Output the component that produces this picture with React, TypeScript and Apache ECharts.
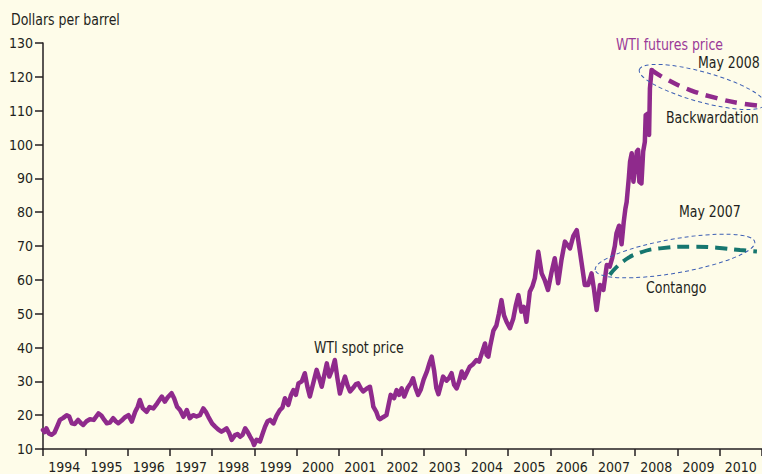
import { useEffect, useRef } from "react";
import * as echarts from "echarts";

const FONT = '"Liberation Sans Narrow", "Arial Narrow", "DejaVu Sans Condensed", sans-serif';

const yearLabels = ["1994", "1995", "1996", "1997", "1998", "1999", "2000", "2001", "2002", "2003", "2004", "2005", "2006", "2007", "2008", "2009", "2010"];

// WTI spot price, dollars per barrel (decimal year, price)
const spotDates = [
  1994.00, 1994.04, 1994.08, 1994.14, 1994.20, 1994.27, 1994.34, 1994.40, 1994.48, 1994.56, 1994.62, 1994.68, 1994.75, 1994.83, 1994.90, 1994.95,
  1995.03, 1995.11, 1995.20, 1995.31, 1995.38, 1995.45, 1995.51, 1995.58, 1995.66, 1995.72, 1995.78, 1995.86, 1995.94,
  1996.02, 1996.10, 1996.18, 1996.24, 1996.29, 1996.36, 1996.45, 1996.52, 1996.61, 1996.70, 1996.76, 1996.81, 1996.88, 1996.95,
  1997.04, 1997.10, 1997.17, 1997.24, 1997.32, 1997.40, 1997.47, 1997.55, 1997.63, 1997.71, 1997.79, 1997.85, 1997.91,
  1998.00, 1998.07, 1998.14, 1998.22, 1998.28, 1998.34, 1998.40, 1998.46, 1998.54, 1998.60, 1998.66, 1998.72, 1998.78, 1998.84, 1998.90, 1998.95, 1998.99,
  1999.05, 1999.13, 1999.20, 1999.25, 1999.31, 1999.37, 1999.45, 1999.52, 1999.60, 1999.66, 1999.72, 1999.80, 1999.86, 1999.92, 1999.98,
  2000.04, 2000.12, 2000.19, 2000.25, 2000.31, 2000.38, 2000.47, 2000.53, 2000.59, 2000.65, 2000.71, 2000.77, 2000.84, 2000.90, 2000.96,
  2001.02, 2001.08, 2001.14, 2001.20, 2001.26, 2001.33, 2001.40, 2001.45, 2001.51, 2001.57, 2001.65, 2001.73, 2001.78, 2001.81, 2001.88, 2001.93, 2001.97,
  2002.04, 2002.12, 2002.17, 2002.22, 2002.30, 2002.36, 2002.42, 2002.48, 2002.54, 2002.62, 2002.70, 2002.75, 2002.81, 2002.87, 2002.93,
  2003.00, 2003.08, 2003.14, 2003.19, 2003.25, 2003.30, 2003.35, 2003.41, 2003.46, 2003.54, 2003.60, 2003.66, 2003.72, 2003.78, 2003.84, 2003.90, 2003.96,
  2004.02, 2004.09, 2004.16, 2004.25, 2004.31, 2004.38, 2004.45, 2004.49, 2004.53, 2004.57, 2004.65, 2004.72, 2004.78, 2004.84, 2004.90, 2004.96,
  2005.04, 2005.12, 2005.18, 2005.24, 2005.31, 2005.37, 2005.43, 2005.51, 2005.57, 2005.63, 2005.71, 2005.79, 2005.86, 2005.94,
  2006.02, 2006.10, 2006.18, 2006.26, 2006.34, 2006.46, 2006.54, 2006.62, 2006.73, 2006.81, 2006.89, 2006.97,
  2007.03, 2007.09, 2007.17, 2007.25, 2007.33, 2007.40, 2007.46, 2007.52, 2007.56, 2007.62, 2007.68, 2007.73, 2007.77, 2007.80, 2007.85, 2007.88, 2007.92, 2007.96,
  2008.00, 2008.04, 2008.07, 2008.10, 2008.15, 2008.19, 2008.23, 2008.25, 2008.31, 2008.33, 2008.35, 2008.39,
];
const spotPrices = [
  15.6, 15.0, 16.1, 14.6, 14.2, 14.8, 16.8, 18.6, 19.2, 20.0, 19.6, 17.6, 17.4, 18.6, 17.6, 17.1,
  18.2, 18.8, 18.6, 20.5, 19.9, 18.6, 17.6, 17.8, 19.1, 18.2, 17.6, 18.4, 19.4,
  20.0, 18.1, 21.0, 22.5, 24.5, 22.0, 21.0, 22.4, 22.0, 23.5, 24.6, 25.5, 24.0, 25.3,
  26.5, 25.0, 22.5, 21.5, 19.5, 21.5, 19.1, 20.0, 19.6, 20.0, 22.0, 21.0, 19.5,
  17.5, 16.6, 15.8, 15.1, 15.6, 16.1, 14.8, 12.7, 14.1, 14.4, 13.6, 14.2, 16.1, 15.0, 13.6, 12.5, 11.2,
  12.7, 12.2, 14.8, 16.6, 18.2, 18.6, 17.6, 19.8, 21.5, 22.2, 25.0, 23.0, 25.8, 27.4, 26.0,
  29.4, 30.0, 32.4, 28.5, 25.5, 29.0, 33.4, 31.0, 28.4, 31.8, 35.3, 31.4, 33.5, 36.3, 31.0,
  26.4, 29.0, 31.4, 28.8, 27.0, 28.0, 29.2, 29.4, 28.0, 27.0, 27.8, 28.4, 25.0, 22.5, 21.0, 19.2, 18.8,
  19.4, 20.0, 23.0, 26.0, 25.0, 27.4, 26.0, 27.9, 25.5, 28.0, 29.5, 30.9, 28.0, 26.0, 27.5,
  30.5, 33.0, 35.5, 37.3, 33.0, 28.0, 26.2, 29.0, 31.4, 30.2, 31.0, 32.4, 29.0, 27.9, 30.0, 32.9, 31.0,
  32.5, 34.3, 35.0, 36.3, 35.8, 38.5, 41.2, 37.8, 37.3, 40.2, 45.0, 46.5, 50.0, 54.0, 49.5, 47.6,
  45.7, 48.6, 52.5, 55.5, 50.6, 52.0, 47.6, 56.5, 58.0, 60.5, 68.3, 61.9, 60.0, 57.0,
  62.0, 66.4, 59.0, 66.0, 71.3, 69.3, 73.0, 74.7, 65.4, 58.5, 58.5, 61.9,
  57.0, 51.1, 58.5, 57.0, 64.4, 63.9, 66.5, 70.0, 73.8, 76.0, 70.5, 77.0, 81.0, 83.0, 90.0, 94.9, 97.4, 89.0,
  93.0, 97.9, 98.4, 89.0, 88.5, 97.9, 100.8, 108.7, 109.2, 102.8, 116.6, 122.0,
];

// WTI futures curve, May 2007 (contango)
const contangoDates = [2007.40, 2007.71, 2008.11, 2008.59, 2009.37, 2009.93, 2010.48, 2010.88];
const contangoPrices = [61.5, 65.4, 68.0, 69.3, 69.8, 69.5, 68.8, 68.4];

// WTI futures curve, May 2008 (backwardation)
const backwardDates = [2008.39, 2008.74, 2009.30, 2009.93, 2010.48, 2011.0];
const backwardPrices = [122.0, 119.3, 116.1, 113.7, 112.2, 111.4];

const pair = (xs: number[], ys: number[]) => xs.map((x, i) => [x, ys[i]]);

const PURPLE = "#8f2a8c";
const TEAL = "#16766f";
const INK = "#231f20";
const BLUE = "#3d5fb4";

export default function App() {
  const ref = useRef<HTMLDivElement>(null);
  useEffect(() => {
    if (!ref.current) return;
    const chart = echarts.init(ref.current, undefined, { renderer: "svg" });
    const label = (x: number, y: number, text: string, fill = INK) => ({
      type: "text",
      x,
      y,
      z: 20,
      scaleX: 0.87,
      style: { text, fill, font: `16px ${FONT}`, verticalAlign: "middle" },
    });
    chart.setOption({
      animation: false,
      backgroundColor: "#fefce9",
      grid: { left: 43, right: 0, top: 43, bottom: 25, containLabel: false },
      xAxis: [
        {
          type: "value",
          min: 1994,
          max: 2011,
          interval: 1,
          axisLine: { show: true, lineStyle: { color: INK, width: 1.5 } },
          axisTick: { show: true, length: 7, lineStyle: { color: INK, width: 1.5 } },
          axisLabel: { show: false },
          splitLine: { show: false },
        },
        {
          type: "category",
          data: yearLabels,
          boundaryGap: true,
          position: "bottom",
          axisLine: { show: false },
          axisTick: { show: false },
          axisLabel: { show: true, color: INK, fontFamily: FONT, fontSize: 14, margin: 11, interval: 0 },
          splitLine: { show: false },
        },
      ],
      yAxis: {
        type: "value",
        min: 10,
        max: 130,
        interval: 10,
        axisLine: { show: true, lineStyle: { color: INK, width: 1.5 } },
        axisTick: { show: true, length: 8, lineStyle: { color: INK, width: 1.5 } },
        axisLabel: { color: INK, fontFamily: FONT, fontSize: 14, margin: 10 },
        splitLine: { show: false },
      },
      series: [
        {
          name: "WTI spot price",
          type: "line",
          xAxisIndex: 0,
          data: pair(spotDates, spotPrices),
          showSymbol: false,
          symbol: "none",
          lineStyle: { color: PURPLE, width: 4.5, join: "round", cap: "round" },
        },
        {
          name: "May 2007",
          type: "line",
          xAxisIndex: 0,
          smooth: true,
          data: pair(contangoDates, contangoPrices),
          symbol: "none",
          lineStyle: { color: TEAL, width: 4, type: [12, 7], cap: "butt" },
        },
        {
          name: "May 2008",
          type: "line",
          xAxisIndex: 0,
          smooth: true,
          data: pair(backwardDates, backwardPrices),
          symbol: "none",
          lineStyle: { color: PURPLE, width: 4.5, type: [12, 8], cap: "butt" },
        },
      ],
      graphic: [
        label(11, 20, "Dollars per barrel"),
        label(314, 348, "WTI spot price"),
        label(616, 45, "WTI futures price", "#9a3a98"),
        label(698, 63, "May 2008"),
        label(666, 118, "Backwardation"),
        label(679, 212, "May 2007"),
        label(646, 288, "Contango"),
        {
          type: "ellipse",
          x: 702,
          y: 87,
          rotation: -0.27,
          z: 15,
          shape: { cx: 0, cy: 0, rx: 65, ry: 15 },
          style: { fill: "none", stroke: BLUE, lineWidth: 1, lineDash: [4, 3] },
        },
        {
          type: "ellipse",
          x: 675,
          y: 256,
          rotation: 0.174,
          z: 15,
          shape: { cx: 0, cy: 0, rx: 81, ry: 17 },
          style: { fill: "none", stroke: BLUE, lineWidth: 1, lineDash: [4, 3] },
        },
      ],
    });
    return () => chart.dispose();
  }, []);
  return (
    <div
      ref={ref}
      style={{ position: "fixed", left: 0, top: 0, width: 762, height: 474 }}
    />
  );
}
